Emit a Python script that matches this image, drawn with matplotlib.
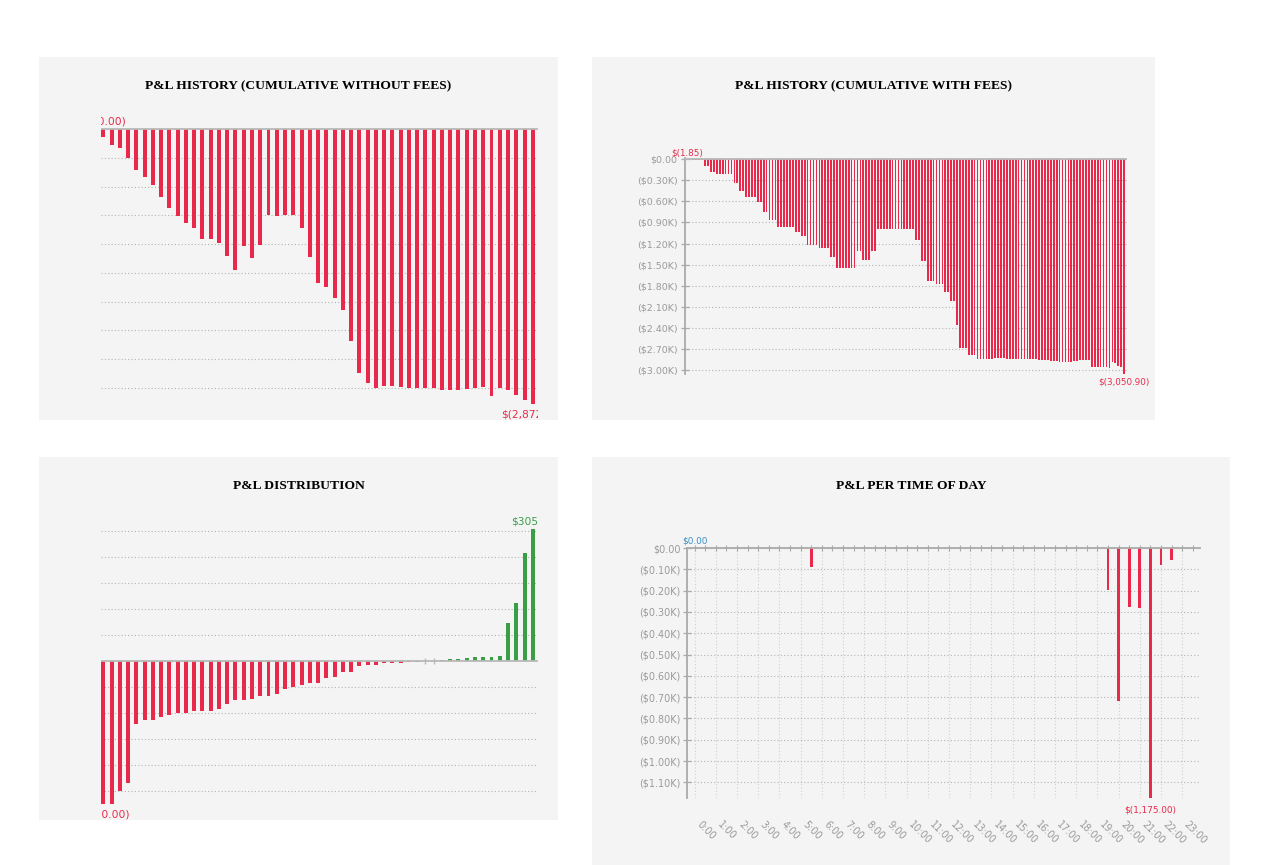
import numpy as np
import matplotlib
matplotlib.use("Agg")
import matplotlib.pyplot as plt
from matplotlib.patches import Rectangle
from matplotlib.ticker import FuncFormatter, MultipleLocator

W, H = 1272, 865
RED = '#e8294b'
GREEN = '#3a9e47'
BLUE = '#3b8fc6'
PANEL = '#f4f4f4'
GRID = '#b4b4b4'
TICK = '#9a9a9a'

# --- data -----------------------------------------------------------------
# cumulative P&L without fees, one bar per trade
cum_no_fees = [-80.00, -167, -195, -306, -424, -504, -581, -709, -824, -911,
               -977, -1036, -1151, -1151, -1189, -1325, -1467, -1217, -1346, -1210,
               -901, -904, -897, -897, -1029, -1332, -1610, -1652, -1766, -1885,
               -2215, -2545, -2646, -2698, -2684, -2684, -2691, -2698, -2698, -2705,
               -2705, -2719, -2726, -2719, -2709, -2702, -2695, -2785, -2698, -2722,
               -2775, -2823, -2872.40]

# cumulative P&L with fees, one bar per fill
cum_with_fees = [-1.85, -1.85, -3.70, -3.70, -3.70, -5.55, -96, -96, -186, -186,
                 -214, -214, -214, -214, -214, -214, -334, -334, -453, -453,
                 -539, -539, -539, -539, -615, -615, -749, -749, -867, -867,
                 -867, -963, -963, -963, -963, -963, -963, -1034, -1034, -1096,
                 -1096, -1215, -1215, -1215, -1215, -1258, -1258, -1258, -1258, -1396,
                 -1396, -1553, -1553, -1553, -1553, -1553, -1553, -1553, -1306, -1306,
                 -1434, -1434, -1434, -1306, -1306, -997, -997, -997, -997, -997,
                 -997, -997, -997, -997, -997, -997, -997, -997, -1143, -1143,
                 -1443, -1443, -1729, -1729, -1729, -1777, -1777, -1777, -1896, -1896,
                 -2025, -2025, -2363, -2692, -2692, -2692, -2792, -2792, -2792, -2845,
                 -2845, -2845, -2845, -2845, -2845, -2833, -2833, -2833, -2833, -2840,
                 -2840, -2840, -2840, -2840, -2840, -2840, -2850, -2850, -2850, -2850,
                 -2860, -2860, -2860, -2860, -2876, -2876, -2876, -2883, -2883, -2883,
                 -2883, -2883, -2872, -2872, -2863, -2863, -2863, -2863, -2955, -2955,
                 -2958, -2958, -2960, -2960, -2968, -2882, -2906, -2944, -2963, -3050.90]

# single trade P&L, sorted
trade_pnl = [-330.00, -330, -300, -280, -145, -135, -135, -129, -125, -119,
             -119, -115, -115, -115, -109, -99, -89, -89, -87, -79,
             -79, -75, -65, -59, -54, -49, -49, -39, -37, -25,
             -25, -10, -8, -8, -5, -4, -3, -2, -2, 0,
             0, 3, 5, 5, 8, 10, 10, 10, 12, 88,
             135, 251, 305.00]

# P&L per half-hour slot of the day
slot_hours = np.arange(0, 24, 0.5)
slot_pnl = [0, 0, 0, 0, 0, 0, 0, 0, 0, 0, 0, -89,
            0, 0, 0, 0, 0, 0, 0, 0, 0, 0, 0, 0,
            0, 0, 0, 0, 0, 0, 0, 0, 0, 0, 0, 0,
            0, 0, 0, -196, -716, -278, -280, -1175, -80, -58, 0, 0]
hour_labels = [f'{h}:00' for h in range(24)]


def money(v):
    return f'${v:,.2f}' if v >= 0 else f'$({abs(v):,.2f})'


def money_k(v, pos=None):
    if abs(v) < 1e-9:
        return '$0.00'
    return f'(${abs(v) / 1000:.2f}K)' if v < 0 else f'${v / 1000:.2f}K'


fig = plt.figure(figsize=(W / 100, H / 100), dpi=100)
fig.patch.set_facecolor('white')


def panel(x0, y0, x1, y1, title, tx):
    fig.add_artist(Rectangle((x0 / W, 1 - y1 / H), (x1 - x0) / W, (y1 - y0) / H,
                             transform=fig.transFigure, facecolor=PANEL,
                             edgecolor='none', zorder=0))
    fig.text(tx / W, 1 - (y0 + 29) / H, title, ha='center', va='center',
             family='Liberation Serif', weight='bold', size=9.7)


def px_axes(x0, y0, x1, y1):
    ax = fig.add_axes([x0 / W, 1 - y1 / H, (x1 - x0) / W, (y1 - y0) / H])
    ax.set_facecolor('none')
    for s in ax.spines.values():
        s.set_visible(False)
    return ax


dotted = (0, (1, 2))

panel(39, 57, 558, 420, 'P&L HISTORY (CUMULATIVE WITHOUT FEES)', 298.5)
panel(592, 57, 1155, 420, 'P&L HISTORY (CUMULATIVE WITH FEES)', 873.5)
panel(39, 457, 558, 820, 'P&L DISTRIBUTION', 298.5)
panel(592, 457, 1230, 865, 'P&L PER TIME OF DAY', 911)

# --- top left: cumulative without fees --------------------------------------
ax1 = px_axes(101, 57, 538, 420)
x1 = np.arange(len(cum_no_fees))
ax1.bar(x1, cum_no_fees, width=0.48, color=RED, linewidth=0, zorder=2)
ax1.axhline(0, color='#b8b8b8', lw=1.3, zorder=3)
scale1 = 2872.4 / (404.3 - 129)
ax1.set_ylim(-(420 - 129) * scale1, (129 - 57) * scale1)
ax1.set_xlim(-0.28, 52.63)
ax1.set_yticks(np.arange(-2700, 0, 300))
ax1.grid(axis='y', linestyle=dotted, color=GRID, lw=0.8)
ax1.tick_params(left=False, labelleft=False, bottom=False, labelbottom=False)
i_max = int(np.argmax(cum_no_fees))
i_min = int(np.argmin(cum_no_fees))
ax1.annotate(money(cum_no_fees[i_max]), (i_max, 0), xytext=(0, 2),
             textcoords='offset points', ha='center', va='bottom',
             color=RED, fontsize=7.7, clip_on=True)
ax1.annotate(money(cum_no_fees[i_min]), (i_min, cum_no_fees[i_min]), xytext=(0, -4),
             textcoords='offset points', ha='center', va='top',
             color=RED, fontsize=7.7, clip_on=True)

# --- top right: cumulative with fees ---------------------------------------
ax2 = px_axes(684.6, 158.3, 1127, 373.5)
x2 = np.arange(len(cum_with_fees))
ax2.bar(x2, cum_with_fees, width=0.58, color=RED, linewidth=0, zorder=2)
ax2.axhline(0, color='#b8b8b8', lw=1.3, zorder=3)
ax2.set_xlim(-0.99, 150.0)
ax2.set_ylim(min(cum_with_fees), 14)
ax2.set_yticks(np.arange(0, -3001, -300))
ax2.yaxis.set_major_formatter(FuncFormatter(money_k))
ax2.grid(axis='y', linestyle=dotted, color=GRID, lw=0.8)
ax2.spines['left'].set_visible(True)
ax2.spines['left'].set_color('#aaaaaa')
ax2.spines['left'].set_linewidth(1.3)
ax2.tick_params(axis='y', direction='inout', length=6, width=0.9, color='#aaaaaa',
                labelcolor=TICK, labelsize=6.8, pad=2)
ax2.tick_params(axis='x', bottom=False, labelbottom=False)
j_max = int(np.argmax(cum_with_fees))
j_min = int(np.argmin(cum_with_fees))
ax2.annotate(money(cum_with_fees[j_max]), (j_max, 0), xytext=(0, 1.5),
             textcoords='offset points', ha='center', va='bottom',
             color=RED, fontsize=6.3, annotation_clip=False)
ax2.annotate(money(cum_with_fees[j_min]), (j_min, cum_with_fees[j_min]), xytext=(0, -3),
             textcoords='offset points', ha='center', va='top',
             color=RED, fontsize=6.3, annotation_clip=False)

# --- bottom left: distribution ---------------------------------------------
ax3 = px_axes(101, 500, 538, 820)
x3 = np.arange(len(trade_pnl))
vals3 = np.array(trade_pnl)
colors3 = [GREEN if v > 0 else RED for v in trade_pnl]
ax3.bar(x3, vals3, width=0.48, color=colors3, linewidth=0, zorder=2)
zero3 = x3[vals3 == 0]
ax3.plot(zero3, np.zeros(len(zero3)), ls='none', marker='|', ms=5, mew=1,
         color='#bbbbbb', zorder=3)
ax3.axhline(0, color='#b8b8b8', lw=1.3, zorder=3)
scale3 = 60 / 26.0
ax3.set_ylim(-(820 - 661.3) * scale3, (661.3 - 500) * scale3)
ax3.set_xlim(-0.28, 52.63)
ax3.set_yticks([v for v in range(-300, 301, 60) if v != 0])
ax3.grid(axis='y', linestyle=dotted, color=GRID, lw=0.8)
ax3.tick_params(left=False, labelleft=False, bottom=False, labelbottom=False)
k_max = int(np.argmax(vals3))
k_min = int(np.argmin(vals3))
ax3.annotate(money(vals3[k_max]), (k_max, vals3[k_max]), xytext=(0, 2),
             textcoords='offset points', ha='center', va='bottom',
             color=GREEN, fontsize=7.7, clip_on=True)
ax3.annotate(money(vals3[k_min]), (k_min, vals3[k_min]), xytext=(0, -4),
             textcoords='offset points', ha='center', va='top',
             color=RED, fontsize=7.7, clip_on=True)

# --- bottom right: time of day ---------------------------------------------
ax4 = px_axes(687.4, 548, 1199.8, 798.3)
vals4 = np.array(slot_pnl)
ax4.bar(slot_hours, vals4, width=0.13, color=RED, linewidth=0, zorder=2)
ax4.set_xlim(-0.34, 23.83)
ax4.set_ylim(vals4.min(), 0)
ax4.axhline(0, color='#aaaaaa', lw=1.3, zorder=3, clip_on=False)
ax4.spines['left'].set_visible(True)
ax4.spines['left'].set_color('#aaaaaa')
ax4.spines['left'].set_linewidth(1.3)
ax4.set_yticks(np.arange(0, -1101, -100))
ax4.yaxis.set_major_formatter(FuncFormatter(money_k))
ax4.set_xticks(range(24))
ax4.set_xticklabels(hour_labels, rotation=-45, ha='left', va='top')
ax4.xaxis.set_minor_locator(MultipleLocator(0.5))
ax4.grid(axis='y', linestyle=dotted, color=GRID, lw=0.8)
ax4.grid(axis='x', which='major', linestyle=dotted, color='#cfcfcf', lw=0.8)
ax4.tick_params(axis='y', direction='inout', length=6, width=0.9, color='#aaaaaa',
                labelcolor=TICK, labelsize=6.9, pad=2)
ax4.tick_params(axis='x', which='both', bottom=False, top=True, labelbottom=True,
                labeltop=False, direction='inout', length=4, width=0.8,
                color='#aaaaaa', labelcolor=TICK, labelsize=6.9, pad=13)
m_max = int(np.argmax(vals4))
m_min = int(np.argmin(vals4))
ax4.annotate(money(vals4[m_max]), (slot_hours[m_max], 0), xytext=(0, 2),
             textcoords='offset points', ha='center', va='bottom',
             color=BLUE, fontsize=6.4, annotation_clip=False)
ax4.annotate(money(vals4[m_min]), (slot_hours[m_min], vals4[m_min]), xytext=(0, -5),
             textcoords='offset points', ha='center', va='top',
             color=RED, fontsize=6.4, annotation_clip=False)

fig.savefig('out.png', dpi=100)
